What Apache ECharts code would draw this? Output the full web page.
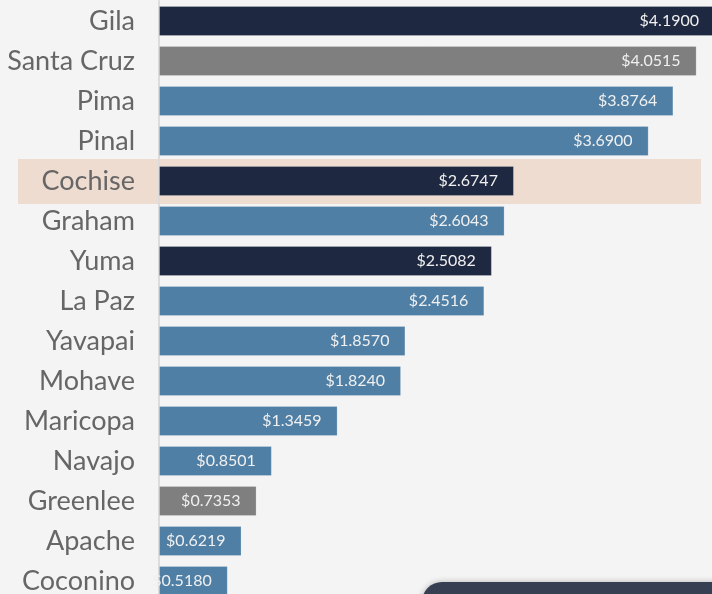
<!DOCTYPE html>
<html>
<head>
<meta charset="utf-8">
<script src="https://cdn.jsdelivr.net/npm/echarts@6/dist/echarts.min.js"></script>
<style>
	html,body{margin:0;padding:0;background:#f4f4f4;overflow:hidden;}
	#main{width:720px;height:604px;}
</style>
</head>
<body>
<div id="main"></div>
<script>
// counties, top to bottom
var counties = ['Gila','Santa Cruz','Pima','Pinal','Cochise','Graham','Yuma','La Paz','Yavapai','Mohave','Maricopa','Navajo','Greenlee','Apache','Coconino'];
var values = [4.19,4.0515,3.8764,3.69,2.6747,2.6043,2.5082,2.4516,1.857,1.824,1.3459,0.8501,0.7353,0.6219,0.518];
// colour group per bar: 0 navy, 1 grey, 2 blue
var groups = [0,1,2,2,0,2,0,2,2,2,2,2,1,2,2];
var highlighted = 'Cochise';

var colors = ['#1e2840','#7f7f7f','#4f7fa5'];

var chart = echarts.init(document.getElementById('main'));
var seriesData = values.map(function(v,i){
	return {value:v, itemStyle:{color:colors[groups[i]]}};
});
chart.setOption({
	backgroundColor:'#f4f4f4',
	animation:false,
	grid:{left:159, top:1, width:556, height:600},
	xAxis:{
		type:'value', min:0, max:4.19, show:false
	},
	yAxis:{
		type:'category',
		data:counties,
		inverse:true,
		offset:1,
		axisLine:{show:true, lineStyle:{color:'#dcdcdc', width:2}},
		axisTick:{show:false},
		axisLabel:{
			color:'#666666',
			fontFamily:'Lato',
			fontSize:27,
			margin:23
		}
	},
	series:[{
		type:'bar',
		data:seriesData,
		barWidth:30,
		itemStyle:{borderColor:'rgba(255,255,255,0.2)', borderWidth:1},
		label:{
			show:true,
			position:'insideRight',
			distance:16,
			color:'#f0f0f0',
			fontFamily:'Lato',
			fontSize:16,
			formatter:function(p){ return '$' + p.value.toFixed(4); }
		}
	}]
});

// highlight band behind the selected county, and the dark panel peeking in at the bottom
var cy = chart.convertToPixel({yAxisIndex:0}, highlighted);
chart.setOption({
	graphic:[
		{type:'rect', z:-1, silent:true,
			shape:{x:18, y:cy-22, width:683, height:45},
			style:{fill:'#efdcd0'}},
		{type:'rect', z:100, silent:true,
			shape:{x:422, y:582, width:320, height:60, r:20},
			style:{fill:'#373f52', shadowBlur:6, shadowColor:'rgba(0,0,0,0.25)'}}
	]
});
</script>
</body>
</html>
